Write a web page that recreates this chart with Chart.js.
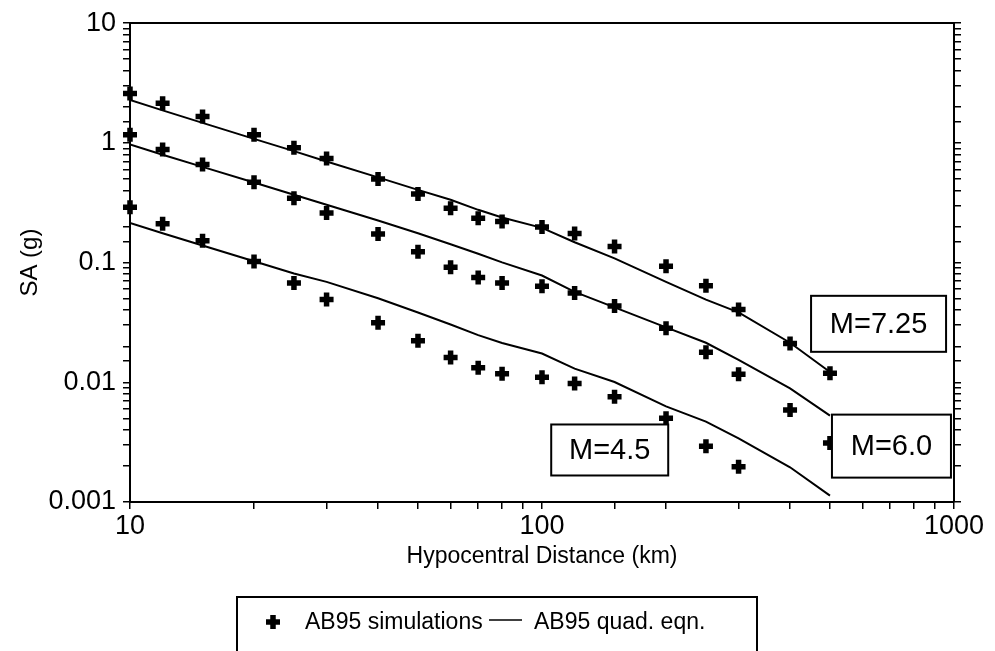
<!DOCTYPE html>
<html>
<head>
<meta charset="utf-8">
<script src="https://cdn.jsdelivr.net/npm/chart.js@4.4.1/dist/chart.umd.min.js"></script>
<style>
  html, body { margin: 0; padding: 0; background: #fff; }
</style>
</head>
<body>
<canvas id="grafico" width="995" height="651"></canvas>
<script>
// Distâncias hipocentrais (km) usadas nas simulações e na equação
const distancias = [10, 12, 15, 20, 25, 30, 40, 50, 60, 70, 80, 100, 120, 150, 200, 250, 300, 400, 500];

// Simulações AB95 (SA em g)
const simM725 = [2.59, 2.14, 1.66, 1.17, 0.91, 0.74, 0.50, 0.374, 0.285, 0.235, 0.221, 0.198, 0.175, 0.136, 0.093, 0.064, 0.0406, 0.0211, 0.0119];
const simM60 = [1.17, 0.88, 0.66, 0.47, 0.344, 0.26, 0.173, 0.123, 0.0915, 0.075, 0.0675, 0.0634, 0.0557, 0.0433, 0.0283, 0.0178, 0.01165, 0.00587, 0.00311];
const simM45 = [0.29, 0.211, 0.152, 0.102, 0.0675, 0.0492, 0.0315, 0.0222, 0.0161, 0.0132, 0.0118, 0.011, 0.00975, 0.00757, 0.005, 0.00292, 0.00197];

// Equação quadrática AB95
const eqnM725 = [2.28, 1.87, 1.47, 1.08, 0.853, 0.70, 0.515, 0.405, 0.335, 0.276, 0.238, 0.195, 0.148, 0.1086, 0.069, 0.049, 0.0384, 0.0214, 0.0122];
const eqnM60 = [0.97, 0.796, 0.631, 0.467, 0.369, 0.304, 0.225, 0.176, 0.1425, 0.1187, 0.1005, 0.078, 0.057, 0.0423, 0.0288, 0.0214, 0.0154, 0.0089, 0.00527];
const eqnM45 = [0.214, 0.176, 0.139, 0.1025, 0.081, 0.069, 0.0504, 0.0383, 0.0304, 0.0248, 0.0213, 0.0174, 0.013, 0.01005, 0.0063, 0.0047, 0.0034, 0.00195, 0.00113];

// Rótulos dos eixos
const ticksX = [10, 100, 1000];
const ticksY = [0.001, 0.01, 0.1, 1, 10];

const rotulosM = ["M=7.25", "M=6.0", "M=4.5"];
const legendaTextos = ["AB95 simulations", "AB95 quad. eqn."];

const fonte = "'Liberation Sans', Arial, Helvetica, sans-serif";

function pares(valores) {
    return valores.map((v, i) => ({ x: distancias[i], y: v }));
}

function rotuloLog(lista) {
    return function (valor) {
        const achou = lista.find(t => Math.abs(t - valor) / t < 1e-6);
        return achou !== undefined ? String(achou) : "";
    };
}

const estiloPonto = {
    showLine: false,
    pointStyle: "cross",
    pointRadius: 7,
    pointBorderWidth: 5.5,
    pointBorderColor: "#000",
    pointBackgroundColor: "#000",
    clip: false
};

const estiloLinha = {
    showLine: true,
    borderColor: "#000",
    borderWidth: 2,
    pointRadius: 0,
    tension: 0,
    fill: false
};

// Caixas "M=..." (posição em km / g)
const caixas = [
    { d: 656, v: 0.0308, w: 135, h: 56 },
    { d: 705, v: 0.00293, w: 119, h: 63 },
    { d: 146, v: 0.00272, w: 117, h: 51 }
];

const pluginRotulos = {
    id: "rotulosM",
    afterDatasetsDraw(chart) {
        const ctx = chart.ctx;
        const sx = chart.scales.x;
        const sy = chart.scales.y;
        ctx.save();
        caixas.forEach((c, i) => {
            const cx = sx.getPixelForValue(c.d);
            const cy = sy.getPixelForValue(c.v);
            ctx.fillStyle = "#fff";
            ctx.fillRect(cx - c.w / 2, cy - c.h / 2, c.w, c.h);
            ctx.strokeStyle = "#000";
            ctx.lineWidth = 2;
            ctx.strokeRect(cx - c.w / 2, cy - c.h / 2, c.w, c.h);
            ctx.fillStyle = "#000";
            ctx.font = "29px " + fonte;
            ctx.textAlign = "center";
            ctx.textBaseline = "middle";
            ctx.fillText(rotulosM[i], cx, cy + 1);
        });
        ctx.restore();
    }
};

const pluginLegenda = {
    id: "legendaCaixa",
    afterDraw(chart) {
        const ctx = chart.ctx;
        ctx.save();
        ctx.strokeStyle = "#000";
        ctx.lineWidth = 2;
        ctx.strokeRect(237, 597, 520, 70);

        // marcador da legenda com o mesmo estilo dos pontos
        ctx.lineWidth = 5.5;
        ctx.fillStyle = "#000";
        Chart.helpers.drawPoint(ctx, { pointStyle: "cross", radius: 7, borderWidth: 5.5, rotation: 0 }, 273, 622);

        ctx.fillStyle = "#000";
        ctx.font = "23px " + fonte;
        ctx.textAlign = "left";
        ctx.textBaseline = "middle";
        ctx.fillText(legendaTextos[0], 305, 623);

        ctx.beginPath();
        ctx.lineWidth = 1.5;
        ctx.moveTo(489, 620);
        ctx.lineTo(522, 620);
        ctx.stroke();

        ctx.fillText(legendaTextos[1], 534, 623);
        ctx.restore();
    }
};

const gradeEixo = {
    drawOnChartArea: false,
    drawTicks: true,
    tickLength: 7,
    color: "#000",
    lineWidth: 1.5
};
const bordaEixo = { display: true, color: "#000", width: 2 };

const ctx = document.getElementById("grafico").getContext("2d");

new Chart(ctx, {
    type: "scatter",
    data: {
        datasets: [
            Object.assign({ label: "AB95 simulations", data: pares(simM725) }, estiloPonto),
            Object.assign({ label: "AB95 simulations M6", data: pares(simM60) }, estiloPonto),
            Object.assign({ label: "AB95 simulations M4.5", data: pares(simM45) }, estiloPonto),
            Object.assign({ label: "AB95 quad. eqn.", data: pares(eqnM725) }, estiloLinha),
            Object.assign({ label: "AB95 quad. eqn. M6", data: pares(eqnM60) }, estiloLinha),
            Object.assign({ label: "AB95 quad. eqn. M4.5", data: pares(eqnM45) }, estiloLinha)
        ]
    },
    options: {
        responsive: false,
        animation: false,
        devicePixelRatio: 1,
        layout: { padding: { left: 0, right: 34, top: 19, bottom: 81 } },
        plugins: {
            legend: { display: false },
            tooltip: { enabled: false }
        },
        scales: {
            x: {
                type: "logarithmic",
                position: "bottom",
                min: 10,
                max: 1000,
                afterFit: s => { s.height = 68; },
                ticks: {
                    autoSkip: false,
                    maxRotation: 0,
                    padding: 1,
                    color: "#000",
                    font: { family: fonte, size: 27 },
                    callback: rotuloLog(ticksX)
                },
                grid: gradeEixo,
                border: bordaEixo,
                title: {
                    display: true,
                    text: "Hypocentral Distance (km)",
                    color: "#000",
                    font: { family: fonte, size: 23 },
                    padding: { top: 0, bottom: 0 }
                }
            },
            x2: {
                type: "logarithmic",
                position: "top",
                min: 10,
                max: 1000,
                afterFit: s => { s.height = 0; },
                ticks: { display: false },
                grid: { display: false, drawTicks: false },
                border: bordaEixo
            },
            y: {
                type: "logarithmic",
                position: "left",
                min: 0.001,
                max: 10,
                afterFit: s => { s.width = 130; },
                ticks: {
                    autoSkip: false,
                    padding: 7,
                    color: "#000",
                    font: { family: fonte, size: 27 },
                    callback: rotuloLog(ticksY)
                },
                grid: gradeEixo,
                border: bordaEixo,
                title: {
                    display: true,
                    text: "SA (g)",
                    color: "#000",
                    font: { family: fonte, size: 24 },
                    padding: { top: 16, bottom: 0 }
                }
            },
            y2: {
                type: "logarithmic",
                position: "right",
                min: 0.001,
                max: 10,
                afterFit: s => { s.width = 7; },
                ticks: { display: false, autoSkip: false },
                grid: gradeEixo,
                border: bordaEixo
            }
        }
    },
    plugins: [pluginRotulos, pluginLegenda]
});
</script>
</body>
</html>
